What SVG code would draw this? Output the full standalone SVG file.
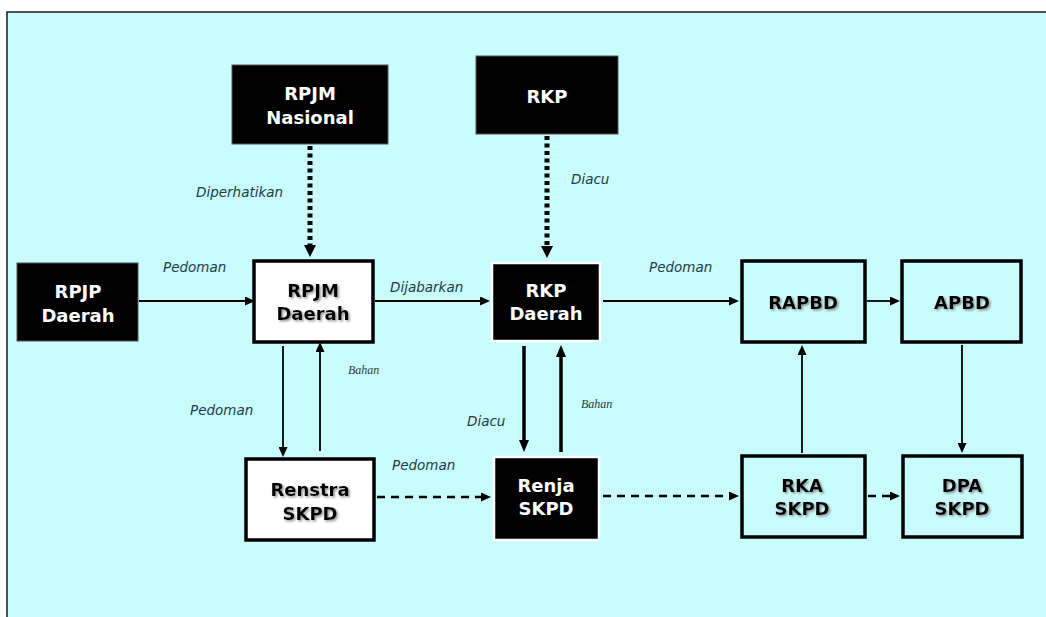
<svg xmlns="http://www.w3.org/2000/svg" width="1046" height="617" viewBox="0 0 1046 617">
<style>
.bg{fill:#c9fcfc;stroke:#1a1a1a;stroke-width:1.5}
.blk{fill:#000;stroke:#555;stroke-width:1}
.blkw{fill:#000;stroke:#fff;stroke-width:2.5}
.wht{fill:#fff;stroke:#000;stroke-width:3.5}
.cyn{fill:#c9fcfc;stroke:#000;stroke-width:3.5}
.tw{font-family:"DejaVu Sans",Verdana,sans-serif;font-weight:bold;font-size:18px;fill:#fff;text-anchor:middle}
.tb{font-family:"DejaVu Sans",Verdana,sans-serif;font-weight:bold;font-size:18px;fill:#000;text-anchor:middle;filter:url(#sh)}
.lb{font-family:"DejaVu Sans",Verdana,sans-serif;font-style:italic;font-size:13.5px;fill:#1e3a48}
.lbs{font-family:"Liberation Serif","Times New Roman",serif;font-style:italic;font-size:12px;fill:#2a3a48}
.thin{stroke:#000;stroke-width:1.8;fill:none}
.thick{stroke:#000;stroke-width:3.5;fill:none}
.dot{stroke:#000;stroke-width:5;stroke-dasharray:4 3.5;fill:none}
.dash{stroke:#000;stroke-width:2.5;stroke-dasharray:8 6;fill:none}
</style>
<defs>
<filter id="sh" x="-10%" y="-20%" width="130%" height="150%">
<feDropShadow dx="1.5" dy="1.5" stdDeviation="0.8" flood-color="#777" flood-opacity="0.8"/>
</filter>
<marker id="big" markerWidth="12" markerHeight="12" refX="0" refY="6" orient="auto" markerUnits="userSpaceOnUse"><path d="M0,0 L12,6 L0,12 z" fill="#000"/></marker>
<marker id="med" markerWidth="12" markerHeight="10" refX="0" refY="5" orient="auto" markerUnits="userSpaceOnUse"><path d="M0,0 L12,5 L0,10 z" fill="#000"/></marker>
<marker id="sm" markerWidth="10" markerHeight="9" refX="0" refY="4.5" orient="auto" markerUnits="userSpaceOnUse"><path d="M0,0 L10,4.5 L0,9 z" fill="#000"/></marker>
</defs>
<rect width="1046" height="617" fill="#fff"/>
<rect class="bg" x="7" y="12" width="1045" height="610"/>

<g id="connectors">
<line class="dot" x1="310" y1="146" x2="310" y2="245" marker-end="url(#big)"/>
<line class="dot" x1="547" y1="136" x2="547" y2="246" marker-end="url(#big)"/>
<line class="thin" x1="139" y1="301" x2="245" y2="301" marker-end="url(#sm)"/>
<line class="thin" x1="375" y1="301" x2="480" y2="301" marker-end="url(#sm)"/>
<line class="thin" x1="603" y1="301" x2="729" y2="301" marker-end="url(#sm)"/>
<line class="thin" x1="867" y1="301" x2="890" y2="301" marker-end="url(#sm)"/>
<line class="thin" x1="283" y1="346" x2="283" y2="447" marker-end="url(#sm)"/>
<line class="thin" x1="320" y1="451" x2="320" y2="352" marker-end="url(#sm)"/>
<line class="thick" x1="524" y1="346" x2="524" y2="440" marker-end="url(#med)"/>
<line class="thick" x1="561" y1="452" x2="561" y2="357" marker-end="url(#med)"/>
<line class="dash" x1="377" y1="497" x2="481" y2="497" marker-end="url(#sm)"/>
<line class="dash" x1="603" y1="496" x2="729" y2="496" marker-end="url(#sm)"/>
<line class="dash" x1="868" y1="496" x2="890" y2="496" marker-end="url(#sm)"/>
<line class="thin" x1="802" y1="453" x2="802" y2="355" marker-end="url(#sm)"/>
<line class="thin" x1="962" y1="345" x2="962" y2="443" marker-end="url(#sm)"/>
</g>

<g id="labels">
<text class="lb" x="196" y="197">Diperhatikan</text>
<text class="lb" x="571" y="184">Diacu</text>
<text class="lb" x="163" y="272">Pedoman</text>
<text class="lb" x="390" y="292">Dijabarkan</text>
<text class="lb" x="649" y="272">Pedoman</text>
<text class="lbs" x="348" y="374">Bahan</text>
<text class="lb" x="190" y="415">Pedoman</text>
<text class="lb" x="467" y="426">Diacu</text>
<text class="lbs" x="581" y="408">Bahan</text>
<text class="lb" x="392" y="470">Pedoman</text>
</g>

<g id="rpjm-nasional">
<rect class="blk" x="232" y="65" width="156" height="79"/>
<text class="tw" x="310" y="100">RPJM</text>
<text class="tw" x="310" y="124">Nasional</text>
</g>
<g id="rkp">
<rect class="blk" x="476" y="56" width="142" height="78"/>
<text class="tw" x="547" y="103">RKP</text>
</g>
<g id="rpjp-daerah">
<rect class="blk" x="17" y="263" width="121" height="78"/>
<text class="tw" x="78" y="298">RPJP</text>
<text class="tw" x="78" y="322">Daerah</text>
</g>
<g id="rpjm-daerah">
<rect class="wht" x="254" y="261" width="119" height="81"/>
<text class="tb" x="313" y="297">RPJM</text>
<text class="tb" x="313" y="320">Daerah</text>
</g>
<g id="rkp-daerah">
<rect class="blkw" x="492" y="263" width="108" height="78"/>
<text class="tw" x="546" y="297">RKP</text>
<text class="tw" x="546" y="320">Daerah</text>
</g>
<g id="renstra-skpd">
<rect class="wht" x="246" y="459" width="128" height="81"/>
<text class="tb" x="310" y="496">Renstra</text>
<text class="tb" x="310" y="520">SKPD</text>
</g>
<g id="renja-skpd">
<rect class="blkw" x="494" y="457" width="105" height="83"/>
<text class="tw" x="546" y="492">Renja</text>
<text class="tw" x="546" y="515">SKPD</text>
</g>
<g id="rapbd">
<rect class="cyn" x="742" y="261" width="123" height="81"/>
<text class="tb" x="803" y="309">RAPBD</text>
</g>
<g id="apbd">
<rect class="cyn" x="902" y="261" width="119" height="81"/>
<text class="tb" x="962" y="309">APBD</text>
</g>
<g id="rka-skpd">
<rect class="cyn" x="742" y="456" width="123" height="81"/>
<text class="tb" x="802" y="492">RKA</text>
<text class="tb" x="802" y="515">SKPD</text>
</g>
<g id="dpa-skpd">
<rect class="cyn" x="903" y="456" width="119" height="81"/>
<text class="tb" x="962" y="492">DPA</text>
<text class="tb" x="962" y="515">SKPD</text>
</g>
</svg>
